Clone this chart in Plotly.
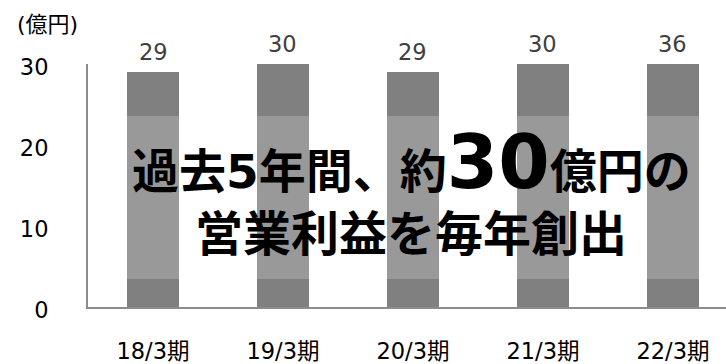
import plotly.graph_objects as go

# ---- data ----
categories = ["18/3期", "19/3期", "20/3期", "21/3期", "22/3期"]
profit = [29, 30, 29, 30, 36]          # 営業利益 (億円), shown as labels
band_base_top = [3.5, 3.5, 3.5, 3.5, 3.5]      # dark lower band upper edge
band_mid_top = [23.6, 23.6, 23.6, 23.6, 23.6]  # light middle band upper edge
y_tick_vals = [0, 10, 20, 30]
y_tick_text = ["0", "10", "20", "30"]
unit_label = "(億円)"
headline_1 = "過去5年間、約<span style='font-size:74px'>30</span>億円の"
headline_2 = "営業利益を毎年創出"

Y_MAX = 30
FONT = "DejaVu Sans, Noto Sans CJK JP"
DARK = "#808080"
LIGHT = "#999999"
TICK_SIZE = 22.5

seg_base = band_base_top
seg_mid = [m - b for m, b in zip(band_mid_top, band_base_top)]
seg_top = [p - m for p, m in zip(profit, band_mid_top)]

fig = go.Figure()
for vals, col in [(seg_base, DARK), (seg_mid, LIGHT), (seg_top, DARK)]:
    fig.add_trace(go.Bar(x=categories, y=vals, marker=dict(color=col, line=dict(width=0)),
                         hoverinfo="skip", showlegend=False))

fig.update_layout(
    barmode="stack",
    bargap=0.6,
    width=726, height=364,
    margin=dict(l=88, r=0, t=64, b=51),
    paper_bgcolor="white", plot_bgcolor="white",
    font=dict(family=FONT, size=TICK_SIZE, color="#000000"),
    xaxis=dict(type="category", range=[-0.5, 4.408], showline=True, linecolor="#8c8c8c",
               linewidth=2, showgrid=False, zeroline=False, ticks="",
               ticklabelstandoff=23, tickfont=dict(size=TICK_SIZE, color="#000000")),
    yaxis=dict(range=[0, Y_MAX], tickvals=y_tick_vals, ticktext=y_tick_text, showline=True,
               linecolor="#8c8c8c", linewidth=2, showgrid=False, zeroline=False, ticks="",
               ticklabelstandoff=33, ticklabelshift=3,
               tickfont=dict(size=TICK_SIZE, color="#000000")),
)

# value labels above bars
for c, v in zip(categories, profit):
    fig.add_annotation(x=c, y=min(v, Y_MAX), xref="x", yref="y", text=str(v),
                       showarrow=False, yanchor="middle", yshift=20,
                       font=dict(size=TICK_SIZE, color="#404040", family=FONT))

# unit label
fig.add_annotation(x=(47 - 88) / 638, y=(313 - 24) / 249, xref="paper", yref="paper",
                   text=unit_label, showarrow=False, xanchor="center", yanchor="middle",
                   font=dict(size=22, color="#000000", family=FONT))

# headline
fig.add_annotation(x=(411 - 88) / 638, y=(313 - 164) / 249, xref="paper", yref="paper",
                   text="<b>" + headline_1 + "</b>", showarrow=False,
                   xanchor="center", yanchor="middle",
                   font=dict(size=47, color="#000000", family=FONT))
fig.add_annotation(x=(411 - 88) / 638, y=(313 - 238) / 249, xref="paper", yref="paper",
                   text="<b>" + headline_2 + "</b>", showarrow=False,
                   xanchor="center", yanchor="middle",
                   font=dict(size=48, color="#000000", family=FONT))

fig.write_html("out.html")
